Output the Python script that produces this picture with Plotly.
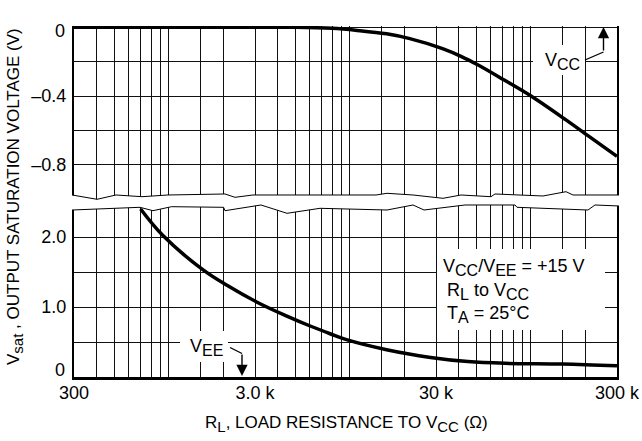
import plotly.graph_objects as go

# ---------------- data ----------------
vcc_r = [300, 1000, 3000, 5000, 8000, 11000, 16000, 21500, 32600, 41500, 51000, 71000, 100000, 156000, 211000, 300000]
vcc_v = [0, 0, 0, 0, -0.006, -0.018, -0.038, -0.066, -0.124, -0.17, -0.218, -0.305, -0.398, -0.537, -0.636, -0.75]

vee_r = [700, 930, 1550, 2100, 3100, 4500, 6100, 7800, 9500, 16000, 28000, 45000, 72000, 150000, 300000]
vee_v = [2.40, 2.02, 1.53, 1.31, 1.065, 0.87, 0.725, 0.618, 0.537, 0.39, 0.28, 0.22, 0.195, 0.185, 0.16]

x_grid = [300, 400, 500, 600, 700, 800, 900, 1000, 1500, 2000,
          3000, 4000, 5000, 6000, 7000, 8000, 9000, 10000, 15000, 20000,
          30000, 40000, 50000, 60000, 70000, 80000, 90000, 100000, 150000, 200000, 300000]
x_labels = {300: "300", 3000: "3.0 k", 30000: "30 k", 300000: "300 k"}

top_ticks = [0, -0.2, -0.4, -0.6, -0.8]
top_labels = ["", "", "–0.4", "", "–0.8"]
bot_ticks = [0, 0.5, 1.0, 1.5, 2.0]
bot_labels = ["", "", "1.0", "", "2.0"]
zero_label = "0"

# ---------------- layout helpers ----------------
W, H = 642, 441
L, R, T, B = 74, 25, 26, 64
PW, PH = W - L - R, H - T - B


def px(x):
    return (x - L) / PW


def py(y):
    return (H - B - y) / PH


FONT = "Liberation Sans Narrow, Arial Narrow, Liberation Sans, Arial, sans-serif"
GRID = "#111111"
INK = "black"


def sub(s, size=16):
    return f"<sub><span style='font-size:{size}px'>{s}</span></sub>"


fig = go.Figure()
fig.add_trace(go.Scatter(x=vcc_r, y=vcc_v, mode="lines", line=dict(color=INK, width=3.5, shape="spline", smoothing=1.0),
                         xaxis="x2", yaxis="y2", showlegend=False, hoverinfo="skip"))
fig.add_trace(go.Scatter(x=vee_r, y=vee_v, mode="lines", line=dict(color=INK, width=3.5, shape="spline", smoothing=1.0),
                         xaxis="x", yaxis="y", showlegend=False, hoverinfo="skip"))

top_dom_bottom = 200
bot_dom_top = 203
zero_top_px = 27.3
top_scale = 172.0
bot_scale = 70.0

xcommon = dict(type="log", range=[2.4771213, 5.4771213], tickvals=x_grid, showgrid=True,
               gridcolor=GRID, gridwidth=1, zeroline=False, ticks="", fixedrange=True, automargin=False)

fig.update_layout(
    width=W, height=H, margin=dict(l=L, r=R, t=T, b=B, autoexpand=False),
    paper_bgcolor="white", plot_bgcolor="white",
    font=dict(family=FONT, size=18, color=INK),
    xaxis=dict(**xcommon, domain=[0, 1], anchor="y",
               ticktext=[x_labels.get(v, "") for v in x_grid],
               showline=True, linecolor=INK, linewidth=3, tickfont=dict(size=18),
               ticklabelstandoff=-3),
    yaxis=dict(domain=[0, py(bot_dom_top)], anchor="x",
               range=[0, (H - B - bot_dom_top) / bot_scale],
               tickvals=bot_ticks, ticktext=bot_labels, showgrid=True, gridcolor=GRID, gridwidth=1,
               zeroline=False, showline=True, linecolor=INK, linewidth=2, mirror=True, automargin=False,
               ticks="", ticklabelstandoff=2, tickfont=dict(size=18), fixedrange=True),
    xaxis2=dict(**xcommon, domain=[0, 1], anchor="y2", showticklabels=False,
                ticktext=["" for v in x_grid], showline=False),
    yaxis2=dict(domain=[py(top_dom_bottom), 1], anchor="x2",
                range=[-(top_dom_bottom - zero_top_px) / top_scale, (zero_top_px - T) / top_scale],
                tickvals=top_ticks, ticktext=top_labels, showgrid=True, gridcolor=GRID, gridwidth=1,
                zeroline=False, showline=True, linecolor=INK, linewidth=2, mirror=True, automargin=False,
                ticks="", ticklabelstandoff=2, tickfont=dict(size=18), fixedrange=True),
)

# ---------------- break waves ----------------
top_wave = [(72, 195), (97, 199.3), (116, 195), (142, 196.7), (168, 195), (225, 194), (235, 197.3),
            (253, 195), (376, 195), (387, 193.3), (413, 195), (443, 198.3), (461, 195), (491, 196.7),
            (495, 194), (543, 196), (566, 191.7), (573, 195), (619, 195)]
bot_wave = [(72, 210), (140, 207.3), (153, 210.7), (171.5, 206.7), (223.6, 207.3), (225, 210.7),
            (261, 205), (287, 213.3), (320, 208.3), (387, 210), (413, 205), (424, 210), (465, 205),
            (515, 205), (517, 207.3), (588, 210), (595, 205), (619, 206)]


def path(points, close=False):
    s = "M " + " L ".join(f"{px(x):.5f},{py(y):.5f}" for x, y in points)
    return s + (" Z" if close else "")


shapes = []
shapes.append(dict(type="path", xref="paper", yref="paper", layer="above",
                   path=path([(70, 190)] + top_wave + [(621, 190), (621, 214)] + bot_wave[::-1] + [(70, 216)], close=True),
                   fillcolor="white", line=dict(width=0)))
shapes.append(dict(type="path", xref="paper", yref="paper", layer="above", path=path(top_wave),
                   line=dict(color=INK, width=1)))
shapes.append(dict(type="path", xref="paper", yref="paper", layer="above", path=path(bot_wave),
                   line=dict(color=INK, width=1)))

# white boxes behind labels (break the grid)
for (x0, y0, x1, y1) in [(533, 45, 585, 75), (180, 331, 228, 362), (437, 249, 605, 330)]:
    shapes.append(dict(type="rect", xref="paper", yref="paper", layer="above",
                       x0=px(x0), x1=px(x1), y0=py(y1), y1=py(y0), fillcolor="white", line=dict(width=0)))

# leader lines
shapes.append(dict(type="line", xref="paper", yref="paper", layer="above",
                   x0=px(585), y0=py(60), x1=px(603.5), y1=py(52), line=dict(color=INK, width=1.3)))
shapes.append(dict(type="line", xref="paper", yref="paper", layer="above",
                   x0=px(230), y0=py(347.5), x1=px(242), y1=py(353.5), line=dict(color=INK, width=1.3)))
fig.update_layout(shapes=shapes)

ann = []
# zero labels (slightly offset as in the original)
ann.append(dict(xref="paper", yref="paper", x=px(67), y=py(31), text=zero_label, showarrow=False,
                font=dict(size=18), xanchor="right", yanchor="middle"))
ann.append(dict(xref="paper", yref="paper", x=px(67), y=py(370), text=zero_label, showarrow=False,
                font=dict(size=18), xanchor="right", yanchor="middle"))
# VCC label
ann.append(dict(xref="paper", yref="paper", x=px(562), y=py(61), text="V" + sub("CC"), showarrow=False,
                font=dict(size=18), xanchor="center", yanchor="middle"))
ann.append(dict(xref="paper", yref="paper", x=px(603.5), y=py(27), text="", showarrow=True,
                ax=0, ay=25, arrowhead=2, arrowsize=1.6, arrowwidth=1.4, arrowcolor=INK))
# VEE label
ann.append(dict(xref="paper", yref="paper", x=px(206), y=py(347), text="V" + sub("EE"), showarrow=False,
                font=dict(size=18), xanchor="center", yanchor="middle"))
ann.append(dict(xref="paper", yref="paper", x=px(242), y=py(376), text="", showarrow=True,
                ax=0, ay=-23, arrowhead=2, arrowsize=1.6, arrowwidth=1.4, arrowcolor=INK))
# conditions box
for txt, x, y in [("V" + sub("CC") + "/V" + sub("EE") + " = +15 V", 441, 267),
                  ("R" + sub("L") + " to V" + sub("CC"), 445, 291),
                  ("T" + sub("A") + " = 25°C", 445, 314)]:
    ann.append(dict(xref="paper", yref="paper", x=px(x), y=py(y), text=txt, showarrow=False,
                    font=dict(size=18), xanchor="left", yanchor="middle", align="left"))
# axis titles
ann.append(dict(xref="paper", yref="paper", x=px(346), y=py(424),
                text="R" + sub("L", 15) + ", LOAD RESISTANCE TO V" + sub("CC", 15) + " (Ω)",
                showarrow=False, font=dict(size=17), xanchor="center", yanchor="middle"))
ann.append(dict(xref="paper", yref="paper", x=px(15), y=py(197),
                text="V" + sub("sat", 15) + " , OUTPUT SATURATION VOLTAGE (V)",
                showarrow=False, font=dict(size=17), textangle=-90, xanchor="center", yanchor="middle"))
fig.update_layout(annotations=ann)

fig.write_html("out.html", config={"displayModeBar": False},
               post_script="document.body.style.margin='0';document.body.style.overflow='hidden';")
